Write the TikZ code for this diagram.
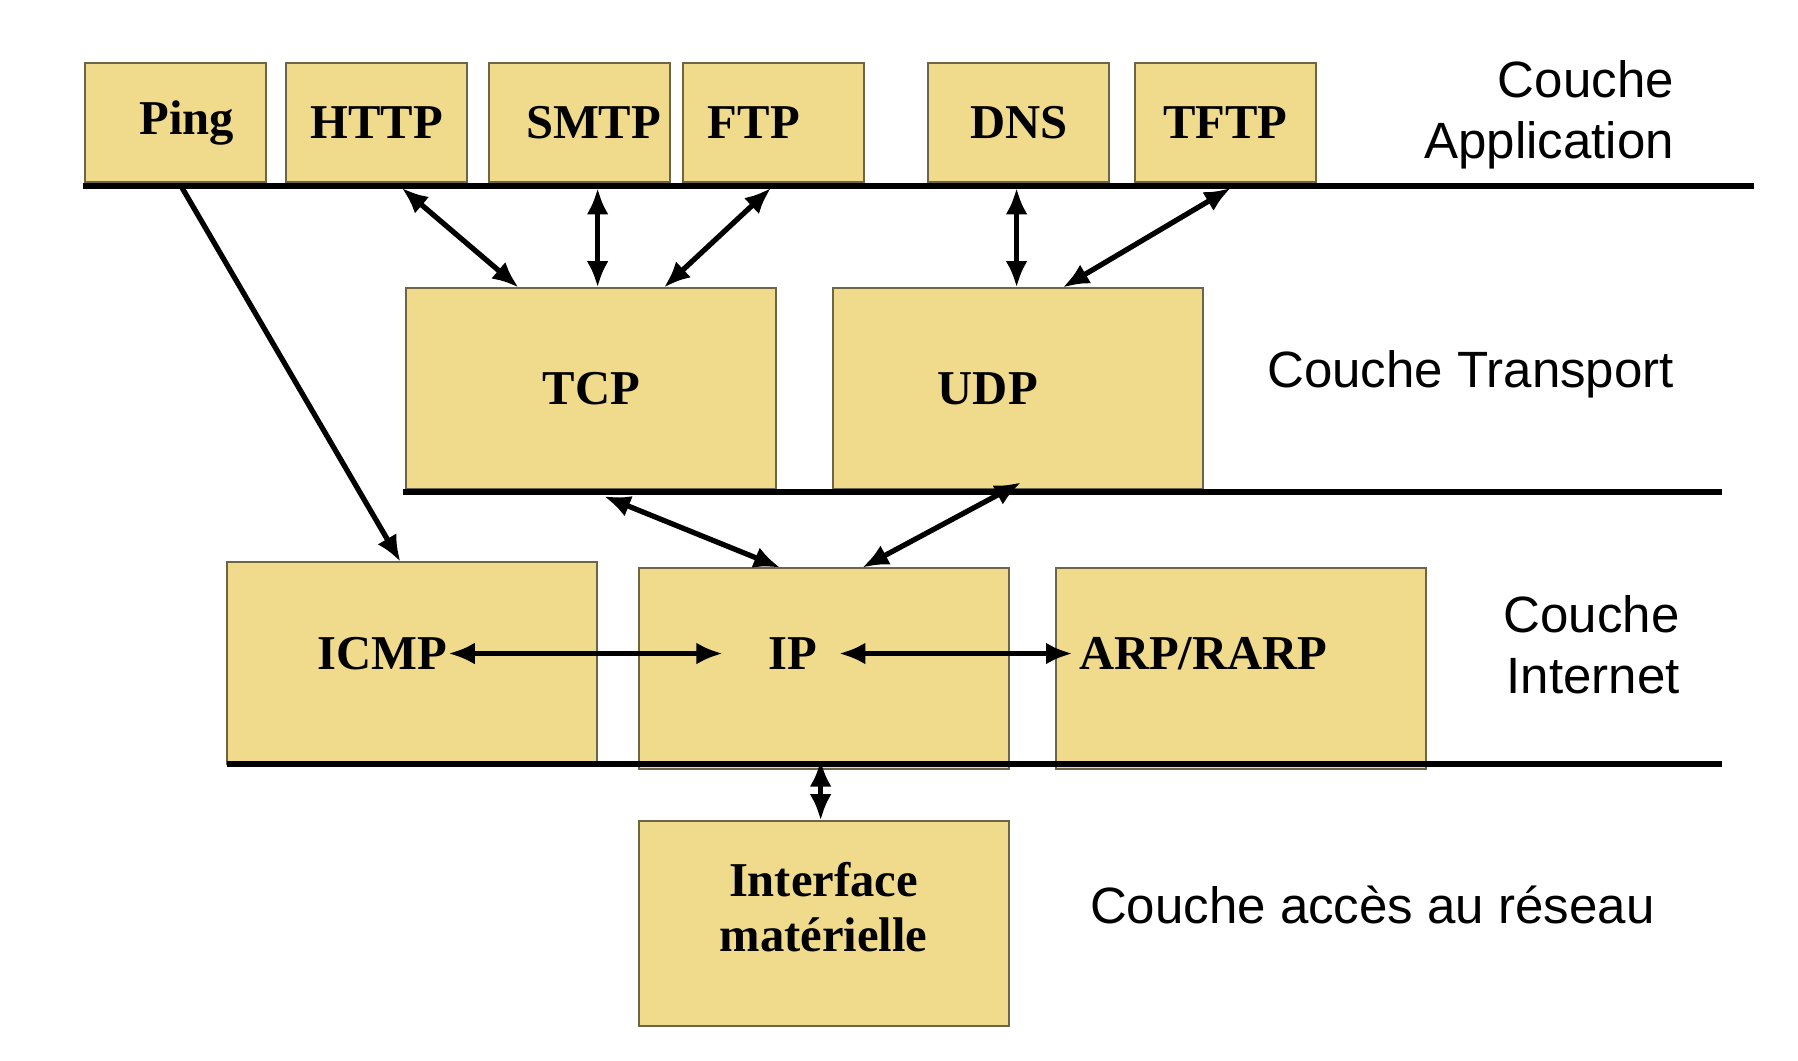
\documentclass[tikz,border=0pt]{standalone}
\usepackage{fontspec}
\setmainfont{Liberation Serif}
\newfontfamily\layerfont{Liberation Sans}
\usepackage{tikz}
\usetikzlibrary{positioning, arrows.meta, calc}

\definecolor{boxfill}{RGB}{240,219,140}
\definecolor{boxline}{RGB}{110,100,70}

\tikzset{
    proto/.style={draw=boxline, fill=boxfill, line width=0.5pt, inner sep=0pt, outer sep=0pt,
        minimum width=1.57cm, minimum height=1.03cm,
        font=\bfseries\fontsize{12}{13.4}\selectfont, align=center},
    bigproto/.style={proto, minimum width=3.21cm, minimum height=1.75cm},
    protolabel/.style={inner sep=0pt, font=\bfseries\fontsize{12}{13.4}\selectfont, align=center},
    layer/.style={line width=1.5pt},
    link/.style={line width=1.3pt, {Latex[length=2.3mm,width=1.9mm]}-{Latex[length=2.3mm,width=1.9mm]}},
    onelink/.style={line width=1.3pt, -{Latex[length=2.3mm,width=1.9mm]}},
    layername/.style={inner sep=0pt, font=\layerfont\fontsize{12.6}{15}\selectfont, align=right}
}

\begin{document}
\begin{tikzpicture}
        \useasboundingbox (0,0) rectangle (15.6,-9.2);

        % application
        \node[proto, label={[protolabel, xshift=0.10cm]center:Ping}] (ping) at (1.52,-1.065) {};
        \node[proto] (http) [right=0.18cm of ping] {HTTP};
        \node[proto, label={[protolabel, xshift=0.12cm]center:SMTP}] (smtp) [right=0.19cm of http] {};
        \node[proto, label={[protolabel, xshift=-0.17cm]center:FTP}] (ftp) [right=0.11cm of smtp] {};
        \node[proto] (dns)  [right=0.56cm of ftp] {DNS};
        \node[proto] (tftp) [right=0.22cm of dns] {TFTP};

        % transport
        \node[bigproto] (tcp) at (5.13,-3.37) {TCP};
        \node[bigproto, label={[protolabel, xshift=-0.26cm]center:UDP}] (udp) at (8.83,-3.37) {};

        % internet
        \node[bigproto] (icmpbox) at (3.575,-5.75) {};
        \node[bigproto] (ipbox)   at (7.145,-5.80) {};
        \node[bigproto] (arpbox)  at (10.77,-5.80) {};
        \node[protolabel] (icmp) at (3.32,-5.67) {ICMP};
        \node[protolabel] (ip)   at (6.88,-5.67) {IP};
        \node[protolabel] (arp)  at (10.44,-5.67) {ARP/RARP};

        % acces reseau
        \node[bigproto, minimum height=1.78cm,
            label={[protolabel, yshift=0.14cm]center:Interface\\mat\'erielle}] (iface) at (7.145,-8.01) {};

        \draw[layer] (0.72,-1.61) coordinate (appL) -- (15.22,-1.61) coordinate (appR);
        \draw[layer] (3.50,-4.27) coordinate (trL) -- (14.94,-4.27) coordinate (trR);
        \draw[layer] (1.97,-6.63) coordinate (inL) -- (14.94,-6.63) coordinate (inR);

        \node[layername, anchor=east] (lapp) at (14.53,-0.995) {Couche\\Application};
        \node[layername, anchor=east] (ltr)  at (14.53,-3.25) {Couche Transport};
        \node[layername, anchor=east] (lin)  at (14.58,-5.595) {Couche\\Internet};
        \node[layername, anchor=west] (lacc) at (9.45,-7.85) {Couche acc\`es au r\'eseau};

        \draw[onelink] ([xshift=0.06cm,yshift=-0.05cm]ping.south) -- ([xshift=-0.1cm]icmpbox.north);
        \draw[link] ([xshift=0.215cm,yshift=-0.05cm]http.south) -- ([xshift=-0.63cm]tcp.north);
        \draw[link] ([xshift=0.155cm,yshift=-0.05cm]smtp.south) coordinate (s) -- (s |- tcp.north);
        \draw[link] ([xshift=-0.02cm,yshift=-0.05cm]ftp.south) -- ([xshift=0.63cm]tcp.north);
        \draw[link] ([xshift=-0.02cm,yshift=-0.05cm]dns.south) coordinate (d) -- (d |- udp.north);
        \draw[link] ([xshift=0.05cm,yshift=-0.05cm]tftp.south) -- ([xshift=0.39cm]udp.north);
        \draw[link] ([xshift=0.11cm,yshift=-0.06cm]tcp.south) -- ([xshift=-0.375cm]ipbox.north);
        \draw[link] ([xshift=0.03cm,yshift=0.06cm]udp.south) -- ([xshift=0.335cm]ipbox.north);
        \draw[link, shorten >=0.39cm] (icmp) -- (ip);
        \draw[link, shorten <=0.18cm, shorten >=0.05cm] (ip) -- (arp);
        \draw[link] ([xshift=-0.025cm,yshift=0.08cm]ipbox.south) coordinate (p) -- (p |- iface.north);
    \end{tikzpicture}
\end{document}
